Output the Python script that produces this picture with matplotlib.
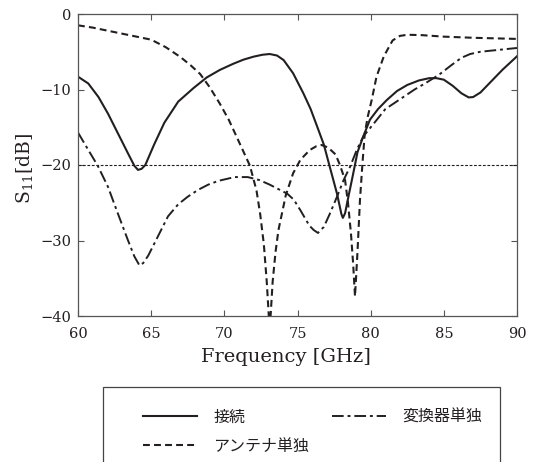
import matplotlib
matplotlib.use("Agg")
import matplotlib.pyplot as plt
from matplotlib.lines import Line2D
from matplotlib.patches import Rectangle

# ---- data ----
freq_conn = [60, 60.7, 61.4, 62.05, 62.7, 63.4, 63.85, 64.1, 64.35, 64.6, 65.2, 65.9, 66.85, 67.9, 68.8,
             69.7, 70.6, 71.3, 72.0, 72.6, 73.1, 73.6, 74.05, 74.7, 75.4, 75.9, 76.4, 76.8, 77.2, 77.7,
             78.0, 78.1, 78.25, 78.5, 78.8, 79.1, 79.5, 79.95, 80.5, 81.1, 81.8, 82.5, 83.3, 84.0, 84.5,
             85.0, 85.6, 86.2, 86.7, 87.0, 87.5, 88.2, 89.0, 90]
s11_conn = [-8.3, -9.2, -11.0, -13.2, -15.7, -18.4, -20.1, -20.65, -20.5, -20.0, -17.3, -14.4, -11.6, -9.8,
            -8.4, -7.4, -6.6, -6.05, -5.65, -5.4, -5.3, -5.5, -6.1, -7.85, -10.5, -12.6, -15.2, -17.3,
            -20.2, -23.8, -26.5, -27.0, -26.4, -24.0, -21.2, -18.3, -16.2, -14.0, -12.6, -11.4, -10.2,
            -9.4, -8.8, -8.5, -8.5, -8.7, -9.5, -10.5, -11.05, -11.0, -10.4, -9.0, -7.4, -5.6]

freq_ant = [60, 61, 62, 63, 64, 65, 66, 67, 67.7, 68.35, 69.0, 69.7, 70.3, 70.85, 71.3, 71.75, 72.2,
            72.45, 72.7, 72.9, 73.1, 73.3, 73.5, 73.7, 74.2, 74.7, 75.2, 75.85, 76.3, 76.65, 77.1, 77.6,
            77.9, 78.25, 78.45, 78.65, 78.8, 78.93, 79.1, 79.27, 79.45, 79.6, 79.8, 80.07, 80.4, 80.9,
            81.5, 82.0, 82.5, 83.5, 85, 87, 90]
s11_ant = [-1.5, -1.8, -2.2, -2.6, -3.0, -3.4, -4.4, -5.7, -6.8, -7.95, -9.7, -11.9, -14.0, -16.3, -18.2,
           -20.1, -23.4, -26.5, -30.5, -35.5, -42.0, -35.5, -31.5, -28.6, -24.0, -21.1, -19.3, -18.0,
           -17.5, -17.35, -17.7, -18.6, -20.0, -22.0, -25.0, -29.0, -33.0, -37.4, -31.5, -24.6, -19.5,
           -15.8, -13.6, -11.4, -8.3, -5.6, -3.5, -2.9, -2.75, -2.8, -3.0, -3.15, -3.3]

freq_conv = [60, 60.7, 61.35, 62.05, 62.7, 63.4, 63.85, 64.2, 64.45, 64.8, 65.45, 66.15, 66.85, 67.5,
             68.2, 68.9, 69.6, 70.7, 71.6, 72.4, 73.1, 73.8, 74.3, 74.75, 75.2, 75.8, 76.1, 76.4, 76.8,
             77.2, 77.7, 78.15, 78.6, 79.05, 79.5, 80.3, 81.0, 82.0, 83.0, 83.8, 84.7, 85.5, 86.2, 86.8,
             87.5, 88.5, 90]
s11_conv = [-15.7, -18.0, -20.1, -22.9, -26.3, -29.9, -32.1, -33.3, -33.0, -32.0, -29.5, -26.8, -25.2,
            -24.2, -23.3, -22.6, -22.1, -21.6, -21.6, -22.0, -22.6, -23.3, -23.8, -24.6, -26.0, -28.0,
            -28.6, -29.0, -28.2, -26.5, -24.2, -22.0, -20.2, -18.0, -16.2, -14.3, -12.6, -11.3, -10.0,
            -9.1, -8.0, -6.8, -5.8, -5.3, -5.0, -4.8, -4.5]

x_ticks = [60, 65, 70, 75, 80, 85, 90]
y_ticks = [0, -10, -20, -30, -40]
threshold = -20
legend_labels = ["接続", "アンテナ単独", "変換器単独"]

# ---- figure ----
W, H = 536, 462
fig = plt.figure(figsize=(W / 100, H / 100), dpi=100)
ax = fig.add_axes([78 / W, 1 - 316 / H, (517 - 78) / W, (316 - 14) / H])

serif = "DejaVu Serif"
lc = "#231f20"
dash = (0, (3.3, 2.0))
dashdot = (0, (6, 2, 1.5, 2))

ax.plot(freq_conn, s11_conn, color=lc, lw=1.5, ls="-")
ax.plot(freq_ant, s11_ant, color=lc, lw=1.5, ls=dash)
ax.plot(freq_conv, s11_conv, color=lc, lw=1.4, ls=dashdot)
ax.axhline(threshold, color=lc, lw=0.8, ls=(0, (2.5, 1.5)))

ax.set_xlim(60, 90)
ax.set_ylim(-40, 0)
ax.set_xticks(x_ticks)
ax.set_yticks(y_ticks)
ax.set_xticklabels([str(v) for v in x_ticks], family=serif, fontsize=10.5)
ax.set_yticklabels(["0" if v == 0 else "\u2212" + str(abs(v)) for v in y_ticks], family=serif, fontsize=10.5)
ax.tick_params(direction="in", top=True, right=True, length=4, width=0.8, color="#555555",
               labelcolor=lc)
ax.tick_params(axis="x", pad=8)
ax.tick_params(axis="y", pad=5)
for sp in ax.spines.values():
    sp.set_color("#555555")
    sp.set_linewidth(0.9)

ax.set_xlabel("Frequency [GHz]", family=serif, fontsize=14, color=lc)
ax.xaxis.set_label_coords((286 - 78) / 439, (316 - 357) / 302)
ax.xaxis.label.set_va("center")
ax.set_ylabel(r"S$_{\mathregular{11}}$[dB]", family=serif, fontsize=13.5, color=lc)
ax.yaxis.set_label_coords((25 - 78) / 439, 0.49)
ax.yaxis.label.set_va("center")

# legend frame (extends past the bottom edge)
rect = Rectangle((103 / W, 1 - 475 / H), (500 - 103) / W, (475 - 387) / H,
                 transform=fig.transFigure, fill=False, edgecolor="#444444", lw=0.9, clip_on=False)
fig.patches.append(rect)

handles = [
    Line2D([], [], color=lc, lw=1.5, ls="-"),
    Line2D([], [], color=lc, lw=1.5, ls=dash),
    Line2D([], [], color=lc, lw=1.4, ls=dashdot),
]
leg = fig.legend(handles, legend_labels, loc="upper left", bbox_to_anchor=(143 / W, 1 - 409 / H),
                 ncol=2, frameon=False, borderpad=0, borderaxespad=0,
                 handlelength=3.4, handletextpad=1.0, columnspacing=1.4, labelspacing=0.75,
                 prop={"family": ["Noto Sans CJK JP", "DejaVu Sans"], "size": 11.5})
for t in leg.get_texts():
    t.set_color(lc)

fig.savefig("out.png", dpi=100)
